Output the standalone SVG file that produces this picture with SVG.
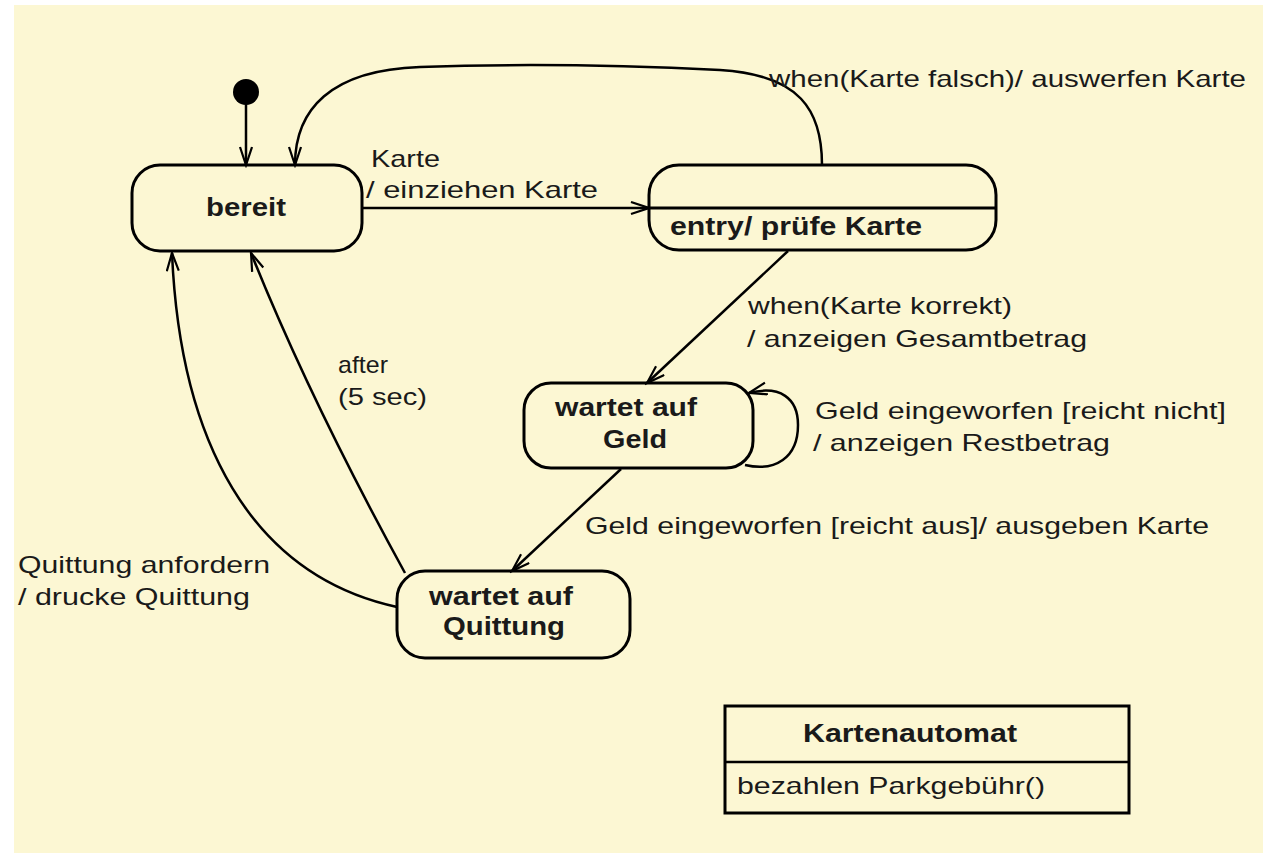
<svg xmlns="http://www.w3.org/2000/svg" width="1263" height="853" viewBox="0 0 1263 853">
<defs>
<marker id="arr" markerUnits="userSpaceOnUse" markerWidth="22" markerHeight="16" refX="19" refY="7" orient="auto">
<path d="M1,1 L19,7 L1,13" fill="none" stroke="#000" stroke-width="2.2"/>
</marker>
<style>
.st{fill:none;stroke:#000;stroke-width:3}
.c{fill:none;stroke:#000;stroke-width:2.5;marker-end:url(#arr)}
text{font-family:"Liberation Sans",Arial,sans-serif;font-size:24px;fill:#1a1a1a}
.b{font-weight:bold;font-size:25px}
</style>
</defs>
<rect width="1263" height="853" fill="#ffffff"/>
<rect x="14" y="5" width="1249" height="848" fill="#FCF7D3"/>

<g id="connectors">
<line class="c" x1="246" y1="104" x2="246" y2="165"/>
<path class="c" d="M822,165 C822,110 800,75 720,70 Q560,62 420,67 C330,70 295,110 295,165"/>
<line class="c" x1="362" y1="208" x2="649" y2="208"/>
<line class="c" x1="788" y1="251" x2="647" y2="383"/>
<path class="c" d="M745,465 C775,472 798,458 798,425 C798,398 780,385 749,393"/>
<line class="c" x1="621" y1="469" x2="512" y2="571"/>
<path class="c" d="M405,573 Q310,400 251,253"/>
<path class="c" d="M397,607 C250,575 180,440 172,253"/>
</g>

<g id="initial"><circle cx="246" cy="92" r="13" fill="#000"/></g>

<g id="bereit">
<rect class="st" x="132" y="165" width="230" height="86" rx="28"/>
<text class="b" x="206" y="216" textLength="80" lengthAdjust="spacingAndGlyphs">bereit</text>
</g>

<g id="pruefe">
<rect class="st" x="649" y="165" width="347" height="85" rx="30"/>
<line class="st" x1="649" y1="208" x2="996" y2="208"/>
<text class="b" x="670" y="235" textLength="252" lengthAdjust="spacingAndGlyphs">entry/ prüfe Karte</text>
</g>

<g id="geld">
<rect class="st" x="524" y="383" width="229" height="85" rx="27"/>
<text class="b" x="555" y="416" textLength="142" lengthAdjust="spacingAndGlyphs">wartet auf</text>
<text class="b" x="603" y="448" textLength="64" lengthAdjust="spacingAndGlyphs">Geld</text>
</g>

<g id="quittung">
<rect class="st" x="397" y="571" width="233" height="87" rx="28"/>
<text class="b" x="429" y="605" textLength="144" lengthAdjust="spacingAndGlyphs">wartet auf</text>
<text class="b" x="443" y="635" textLength="122" lengthAdjust="spacingAndGlyphs">Quittung</text>
</g>

<g id="kartenautomat">
<rect x="725" y="706" width="404" height="107" fill="none" stroke="#000" stroke-width="3"/>
<line x1="725" y1="762" x2="1129" y2="762" stroke="#000" stroke-width="2.5"/>
<text class="b" x="803" y="742" textLength="214" lengthAdjust="spacingAndGlyphs">Kartenautomat</text>
<text x="737" y="794" textLength="308" lengthAdjust="spacingAndGlyphs">bezahlen Parkgebühr()</text>
</g>

<g id="labels">
<text x="769" y="87" textLength="477" lengthAdjust="spacingAndGlyphs">when(Karte falsch)/ auswerfen Karte</text>
<text x="371" y="167" textLength="69" lengthAdjust="spacingAndGlyphs">Karte</text>
<text x="366" y="198" textLength="232" lengthAdjust="spacingAndGlyphs">/ einziehen Karte</text>
<text x="748" y="314" textLength="264" lengthAdjust="spacingAndGlyphs">when(Karte korrekt)</text>
<text x="747" y="347" textLength="340" lengthAdjust="spacingAndGlyphs">/ anzeigen Gesamtbetrag</text>
<text x="338" y="373" textLength="50" lengthAdjust="spacingAndGlyphs">after</text>
<text x="338" y="405" textLength="89" lengthAdjust="spacingAndGlyphs">(5 sec)</text>
<text x="815" y="419" textLength="411" lengthAdjust="spacingAndGlyphs">Geld eingeworfen [reicht nicht]</text>
<text x="813" y="451" textLength="297" lengthAdjust="spacingAndGlyphs">/ anzeigen Restbetrag</text>
<text x="585" y="534" textLength="624" lengthAdjust="spacingAndGlyphs">Geld eingeworfen [reicht aus]/ ausgeben Karte</text>
<text x="18" y="573" textLength="252" lengthAdjust="spacingAndGlyphs">Quittung anfordern</text>
<text x="18" y="605" textLength="232" lengthAdjust="spacingAndGlyphs">/ drucke Quittung</text>
</g>
</svg>
